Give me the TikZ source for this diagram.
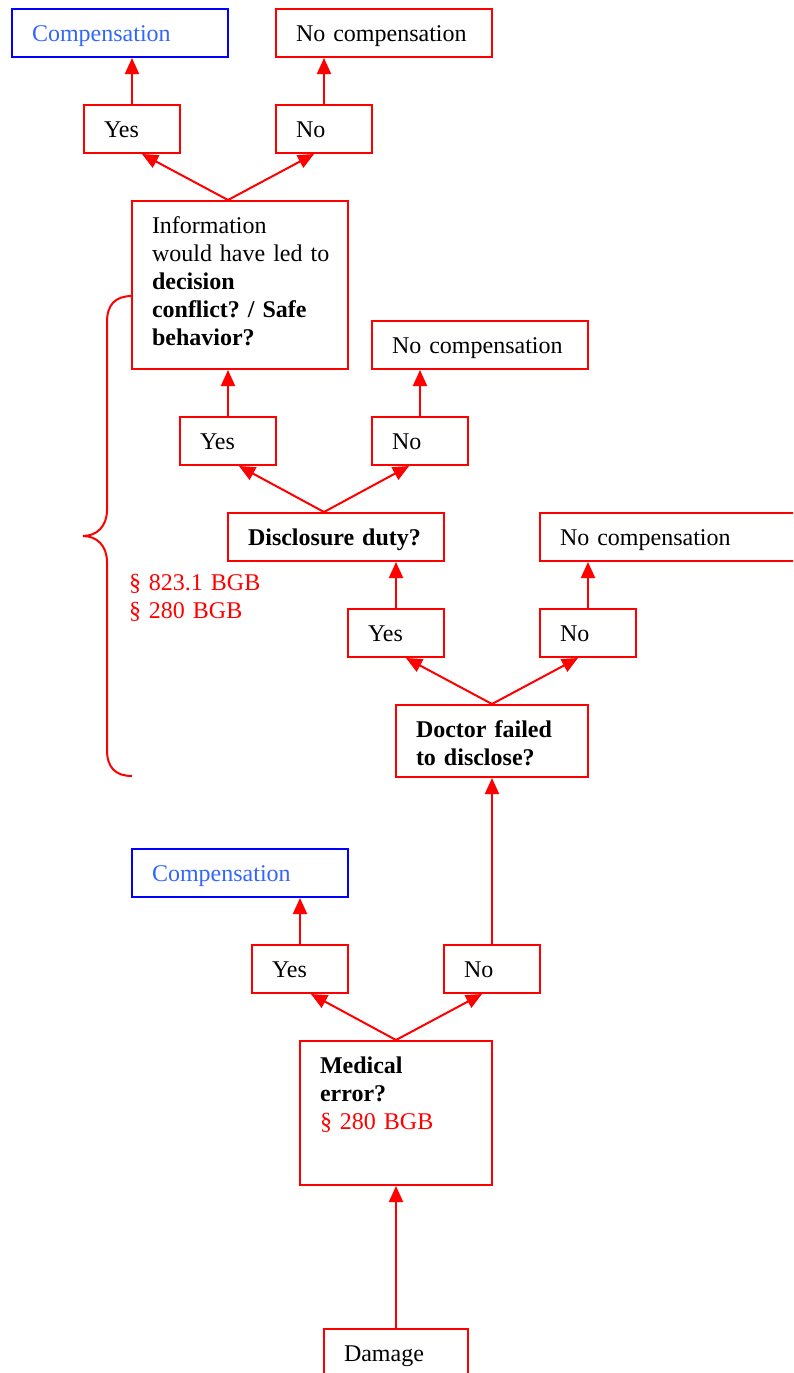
\documentclass[tikz,border=0pt]{standalone}
\usepackage{fontspec}
\setmainfont{Liberation Serif}[WordSpace=0.7]
\frenchspacing
\usetikzlibrary{arrows.meta}
\definecolor{compblue}{RGB}{51,102,255}

\begin{document}
\begin{tikzpicture}[x=1pt, y=-1pt, >={Triangle[length=16pt, width=14pt]}, line width=2pt,
    every node/.style={font=\fontsize{24pt}{28pt}\selectfont},
    box/.style 2 args={draw=red, anchor=north west, align=left, inner xsep=20pt, inner ysep=0pt,
      text width=#1-40pt, text height=32pt, text depth=#2-32pt},
    good/.style={draw=blue, text=compblue},
    link/.style={->, draw=red}]
    \useasboundingbox (0,0) rectangle (793,1373);
    \clip (0,0) rectangle (793,1373);

    \node[box={216pt}{48pt}, good] (comp1) at (11,8) {Compensation};
    \node[box={216pt}{48pt}] (nocomp1) at (275,8) {No compensation};
    \node[box={96pt}{48pt}] (yes1) at (83,104) {Yes};
    \node[box={96pt}{48pt}] (no1) at (275,104) {No};
    \node[box={216pt}{168pt}] (info) at (131,200)
        {Information\\\mbox{would have led to}\\\textbf{decision}\\\textbf{conflict? / Safe}\\\textbf{behavior?}};
    \node[box={216pt}{48pt}] (nocomp2) at (371,320) {No compensation};
    \node[box={96pt}{48pt}] (yes2) at (179,416) {Yes};
    \node[box={96pt}{48pt}] (no2) at (371,416) {No};
    \node[box={216pt}{48pt}] (duty) at (227,512) {\textbf{Disclosure duty?}};
    \node[box={260pt}{48pt}] (nocomp3) at (539,512) {No compensation};
    \node[box={96pt}{48pt}] (yes3) at (347,608) {Yes};
    \node[box={96pt}{48pt}] (no3) at (539,608) {No};
    \node[box={192pt}{72pt}] (doctor) at (395,704) {\textbf{Doctor failed}\\\textbf{to disclose?}};
    \node[box={216pt}{48pt}, good] (comp2) at (131,848) {Compensation};
    \node[box={96pt}{48pt}] (yes4) at (251,944) {Yes};
    \node[box={96pt}{48pt}] (no4) at (443,944) {No};
    \node[box={192pt}{144pt}] (medical) at (299,1040)
        {\textbf{Medical}\\\textbf{error?}\\\textcolor{red}{\S\ 280 BGB}};
    \node[box={144pt}{48pt}] (damage) at (323,1328) {Damage};
    \node[anchor=base west, align=left, text width=160pt, inner sep=0pt, text=red] (bgb) at (128,590)
        {\S\ 823.1 BGB\\\S\ 280 BGB};

    % upward links
    \draw[link] (yes1.north) -- (yes1.north |- comp1.south);
    \draw[link] (no1.north) -- (no1.north |- nocomp1.south);
    \draw[link] (yes2.north) -- (yes2.north |- info.south);
    \draw[link] (no2.north) -- (no2.north |- nocomp2.south);
    \draw[link] (yes3.north) -- (yes3.north |- duty.south);
    \draw[link] (no3.north) -- (no3.north |- nocomp3.south);
    \draw[link] (yes4.north) -- (yes4.north |- comp2.south);
    \draw[link] (no4.north) -- (no4.north |- doctor.south);
    \draw[link] (damage.north) -- (damage.north |- medical.south);

    % yes / no forks
    \draw[link] ([xshift=-12pt]info.north) -- ([xshift=10pt]yes1.south);
    \draw[link] ([xshift=-12pt]info.north) -- ([xshift=-10pt]no1.south);
    \draw[link] ([xshift=-12pt]duty.north) -- ([xshift=11pt]yes2.south);
    \draw[link] ([xshift=-12pt]duty.north) -- ([xshift=-11pt]no2.south);
    \draw[link] (doctor.north) -- ([xshift=10pt]yes3.south);
    \draw[link] (doctor.north) -- ([xshift=-10pt]no3.south);
    \draw[link] (medical.north) -- ([xshift=11pt]yes4.south);
    \draw[link] (medical.north) -- ([xshift=-10pt]no4.south);

    % brace
    \draw[red] (132,296) .. controls (115,296) and (107,305) .. (107,322) -- (107,510)
        .. controls (107,526) and (97,536) .. (83,536)
        .. controls (97,536) and (107,546) .. (107,562) -- (107,750)
        .. controls (107,767) and (115,776) .. (132,776);
\end{tikzpicture}
\end{document}
